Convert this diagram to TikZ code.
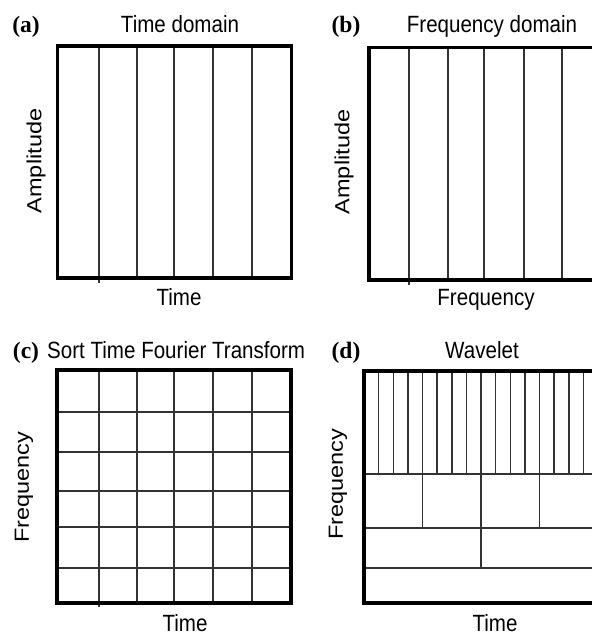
\documentclass[tikz,border=0pt]{standalone}
\usepackage{graphicx}
\usepackage{fontspec}
\setmainfont{Liberation Serif}
\setsansfont{Liberation Sans}
\newcommand\hsq[1]{\scalebox{0.875}[1]{#1}}
\newcommand\vsq[1]{\scalebox{1}[0.87]{#1}}
\tikzset{
  frame/.style={line width=3.6pt, line join=miter, draw=black},
  gl/.style={line width=1.5pt, draw=black!80},
  ttl/.style={font=\sffamily\fontsize{23.5}{28}\selectfont, anchor=base, inner sep=0pt},
  ylab/.style={font=\sffamily\fontsize{23.5}{28}\selectfont, rotate=90, inner sep=0pt},
  plab/.style={font=\rmfamily\bfseries\fontsize{23.5}{28}\selectfont, anchor=base, inner sep=0pt}
}
\begin{document}
\begin{tikzpicture}[x=1pt,y=-1pt]
\useasboundingbox (0,0) rectangle (592,635);
\clip (0,0) rectangle (592,635);
% ---------- (a) Time domain
\foreach \x in {137,174,213,252} \draw[gl] (\x,46) -- (\x,278);
\draw[gl] (99,46) -- (99,283);
\draw[frame] (57.5,46) rectangle (291.5,278);
\node[plab] (la) at (26,32) {(a)};
\node[ttl] (ta) at (180,32.3) {\hsq{Time domain}};
\node[ylab] (ya) at (36,161) {\vsq{Amplitude}};
\node[ttl] (xa) at (179,305) {\hsq{Time}};
% ---------- (b) Frequency domain
\foreach \x in {448,484,524,562} \draw[gl] (\x,47.5) -- (\x,280);
\draw[gl] (409,47.5) -- (409,285);
\draw[frame] (369,47.5) rectangle (603,280);
\node[plab] (lb) at (346,32) {(b)};
\node[ttl] (tb) at (492,32.3) {\hsq{Frequency domain}};
\node[ylab] (yb) at (344,162) {\vsq{Amplitude}};
\node[ttl] (xb) at (486,305) {\hsq{Frequency}};
% ---------- (c) STFT
\foreach \x in {137,174,213,252} \draw[gl] (\x,370) -- (\x,603);
\draw[gl] (99,370) -- (99,607);
\foreach \y in {412,452,491,527,568} \draw[gl] (57,\y) -- (291,\y);
\draw[frame] (57,370) rectangle (291,603);
\node[plab] (lc) at (26,358.5) {(c)};
\node[ttl, anchor=base west] (tc) at (47,358.5) {\hsq{Sort Time Fourier Transform}};
\node[ylab] (yc) at (24,487) {\vsq{Frequency}};
\node[ttl] (xc) at (185,631.5) {\hsq{Time}};
% ---------- (d) Wavelet
\foreach \k in {1,...,15} \draw[gl] ({364+14.625*\k},371) -- ({364+14.625*\k},474);
\foreach \y in {474,528,568} \draw[gl] (364,\y) -- (598,\y);
\foreach \x in {422.5,481,539.5} \draw[gl] (\x,474) -- (\x,528);
\draw[gl] (481,528) -- (481,568);
\draw[frame] (364,371) rectangle (598,603);
\node[plab] (ld) at (346,358.5) {(d)};
\node[ttl] (td) at (482,358.5) {\hsq{Wavelet}};
\node[ylab] (yd) at (338,484) {\vsq{Frequency}};
\node[ttl] (xd) at (495,631.5) {\hsq{Time}};
\end{tikzpicture}
\end{document}
